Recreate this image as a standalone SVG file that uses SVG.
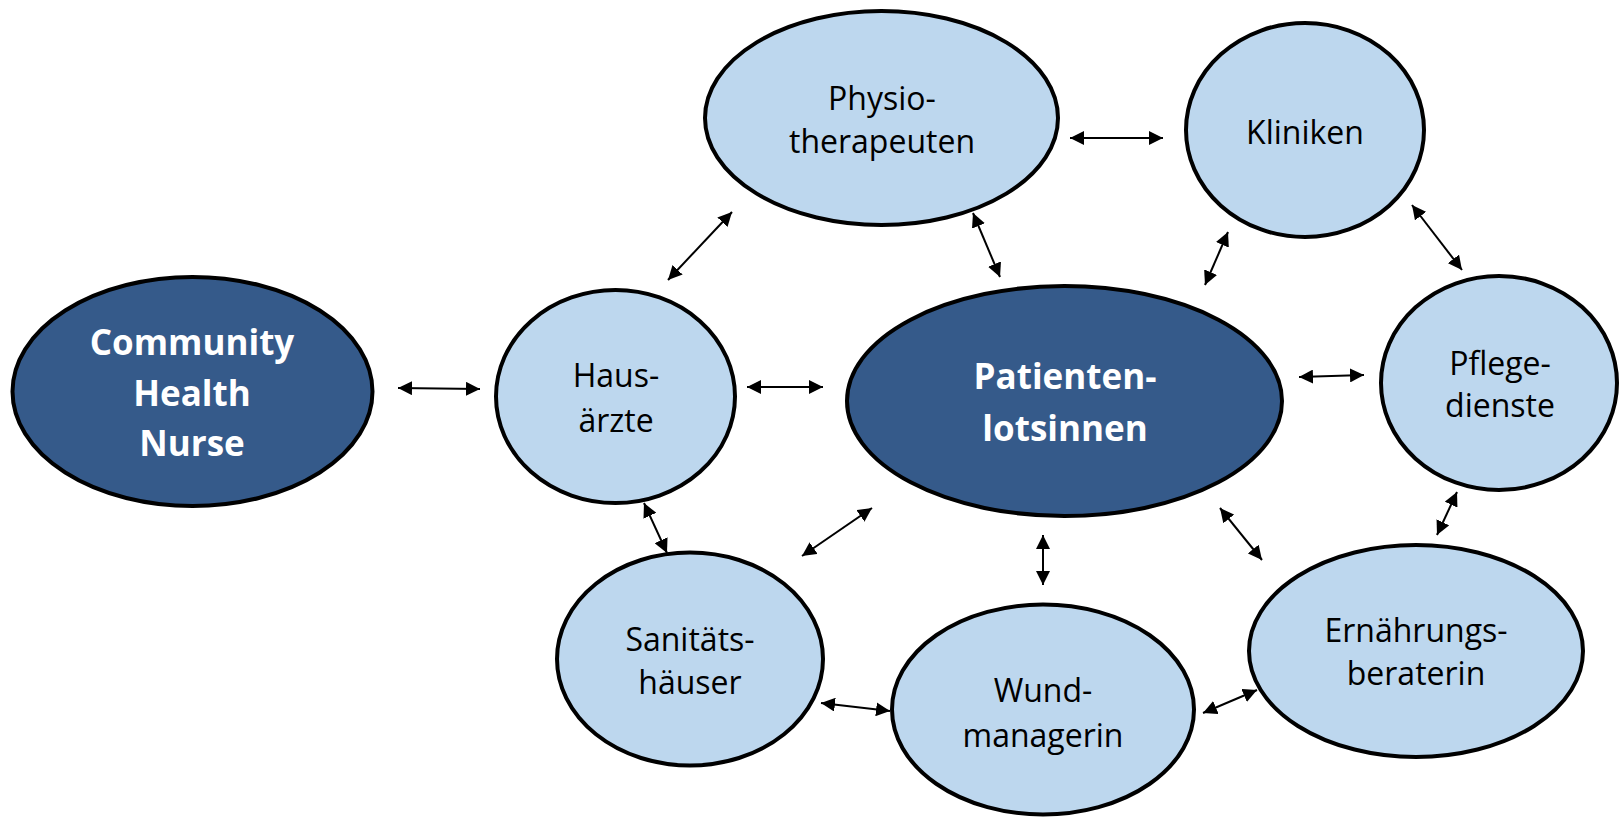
<svg xmlns="http://www.w3.org/2000/svg" width="1620" height="818" viewBox="0 0 1620 818">
<defs>
<style>
.dark{fill:#355A8A;stroke:#000;stroke-width:4}
.light{fill:#BDD7EE;stroke:#000;stroke-width:4}
.tl{font-family:"Open Sans","Liberation Sans",sans-serif;font-size:32px;fill:#000;text-anchor:middle}
.td{font-family:"Open Sans","Liberation Sans",sans-serif;font-size:35px;font-weight:bold;fill:#fff;text-anchor:middle}
.conn line{stroke:#000;stroke-width:2;marker-start:url(#ah);marker-end:url(#ah)}
</style>
<marker id="ah" viewBox="0 0 14 14" markerWidth="14" markerHeight="14" refX="14" refY="7" orient="auto-start-reverse" markerUnits="userSpaceOnUse">
<path d="M0,0 L14,7 L0,14 z" fill="#000"/>
</marker>
</defs>
<rect width="1620" height="818" fill="#fff"/>
<g id="connectors" class="conn">
<line x1="398" y1="388" x2="480" y2="389"/>
<line x1="747" y1="387" x2="823" y2="387"/>
<line x1="668" y1="280" x2="732" y2="212"/>
<line x1="973" y1="213" x2="1000" y2="277"/>
<line x1="1070" y1="138" x2="1163" y2="138"/>
<line x1="1228" y1="232" x2="1205" y2="285"/>
<line x1="1412" y1="205" x2="1462" y2="270"/>
<line x1="1299" y1="377" x2="1364" y2="375"/>
<line x1="1457" y1="492" x2="1437" y2="535"/>
<line x1="1220" y1="508" x2="1262" y2="560"/>
<line x1="1043" y1="535" x2="1043" y2="585"/>
<line x1="872" y1="508" x2="802" y2="556"/>
<line x1="644" y1="503" x2="667" y2="553"/>
<line x1="821" y1="703" x2="890" y2="711"/>
<line x1="1203" y1="713" x2="1257" y2="690"/>
</g>
<g id="community-health-nurse">
<ellipse class="dark" cx="192.5" cy="391.5" rx="180" ry="114.5"/>
<text class="td" x="192" y="355">Community</text>
<text class="td" x="192" y="406">Health</text>
<text class="td" x="192" y="456">Nurse</text>
</g>
<g id="hausaerzte">
<ellipse class="light" cx="615.5" cy="396.5" rx="119.5" ry="106.5"/>
<text class="tl" x="616" y="387">Haus-</text>
<text class="tl" x="616" y="432">ärzte</text>
</g>
<g id="physiotherapeuten">
<ellipse class="light" cx="881.5" cy="118" rx="176.5" ry="107"/>
<text class="tl" x="882" y="110">Physio-</text>
<text class="tl" x="882" y="153">therapeuten</text>
</g>
<g id="kliniken">
<ellipse class="light" cx="1305" cy="130" rx="119" ry="107"/>
<text class="tl" x="1305" y="144">Kliniken</text>
</g>
<g id="patientenlotsinnen">
<ellipse class="dark" cx="1064.5" cy="401" rx="217.5" ry="115"/>
<text class="td" x="1065" y="389">Patienten-</text>
<text class="td" x="1065" y="441">lotsinnen</text>
</g>
<g id="pflegedienste">
<ellipse class="light" cx="1499" cy="383" rx="118" ry="107"/>
<text class="tl" x="1500" y="375">Pflege-</text>
<text class="tl" x="1500" y="417">dienste</text>
</g>
<g id="sanitaetshaeuser">
<ellipse class="light" cx="690" cy="659" rx="133" ry="106.5"/>
<text class="tl" x="690" y="651">Sanitäts-</text>
<text class="tl" x="690" y="694">häuser</text>
</g>
<g id="wundmanagerin">
<ellipse class="light" cx="1043" cy="709.5" rx="151" ry="105"/>
<text class="tl" x="1043" y="702">Wund-</text>
<text class="tl" x="1043" y="747">managerin</text>
</g>
<g id="ernaehrungsberaterin">
<ellipse class="light" cx="1416" cy="651" rx="167" ry="106"/>
<text class="tl" x="1416" y="642">Ernährungs-</text>
<text class="tl" x="1416" y="685">beraterin</text>
</g>
</svg>
